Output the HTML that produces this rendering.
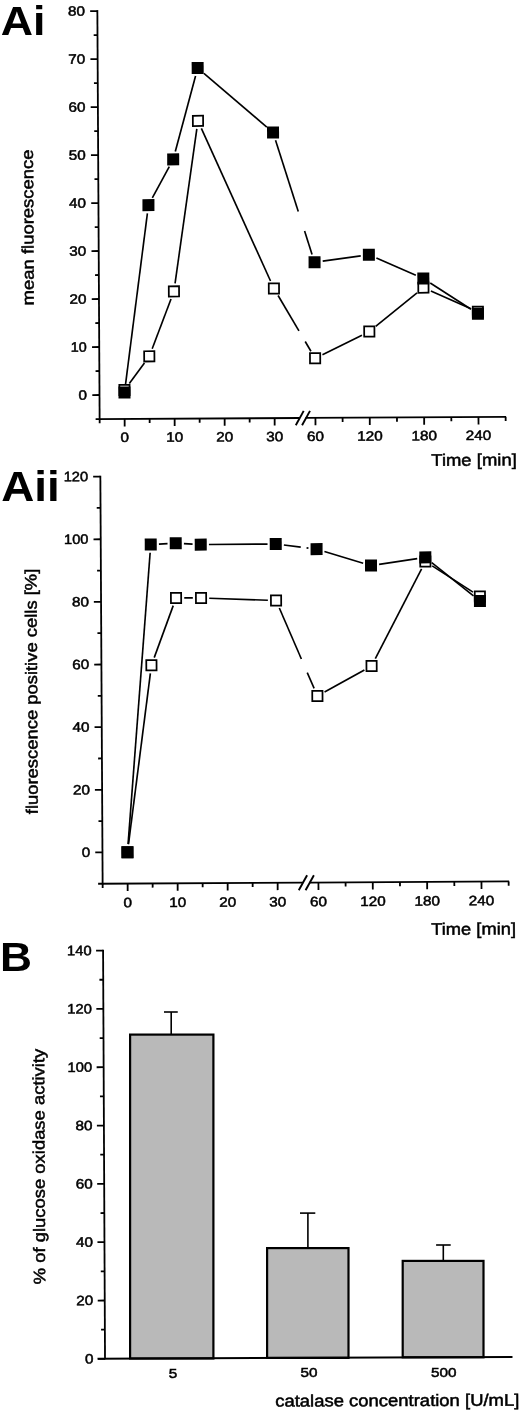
<!DOCTYPE html><html><head><meta charset="utf-8"><title>Figure</title>
<style>html,body{margin:0;padding:0;background:#fff}svg{display:block;filter:grayscale(1)}text{font-family:"Liberation Sans",sans-serif;fill:#000}</style></head><body>
<svg width="520" height="1412" viewBox="0 0 520 1412">
<rect width="520" height="1412" fill="#fff"/>
<text x="0.80" y="35.00" font-size="41" text-anchor="start" textLength="44.70" lengthAdjust="spacingAndGlyphs" font-weight="bold">Ai</text>
<text x="1.30" y="501.30" font-size="42" text-anchor="start" textLength="58.50" lengthAdjust="spacingAndGlyphs" font-weight="bold">Aii</text>
<text x="0.00" y="971.30" font-size="41.5" text-anchor="start" textLength="32.00" lengthAdjust="spacingAndGlyphs" font-weight="bold">B</text>
<g transform="rotate(-0.32 300 215)">
<line x1="98.50" y1="9.00" x2="98.50" y2="418.90" stroke="#000" stroke-width="1.8" />
<line x1="91.30" y1="393.90" x2="98.50" y2="393.90" stroke="#000" stroke-width="1.8" />
<text x="86.10" y="398.40" font-size="13.6" text-anchor="end" textLength="8.50" lengthAdjust="spacingAndGlyphs" stroke="#000" stroke-width="0.5">0</text>
<line x1="94.70" y1="369.90" x2="98.50" y2="369.90" stroke="#000" stroke-width="1.8" />
<line x1="91.30" y1="345.90" x2="98.50" y2="345.90" stroke="#000" stroke-width="1.8" />
<text x="86.10" y="350.40" font-size="13.6" text-anchor="end" textLength="16.00" lengthAdjust="spacingAndGlyphs" stroke="#000" stroke-width="0.5">10</text>
<line x1="94.70" y1="321.90" x2="98.50" y2="321.90" stroke="#000" stroke-width="1.8" />
<line x1="91.30" y1="297.90" x2="98.50" y2="297.90" stroke="#000" stroke-width="1.8" />
<text x="86.10" y="302.40" font-size="13.6" text-anchor="end" textLength="17.00" lengthAdjust="spacingAndGlyphs" stroke="#000" stroke-width="0.5">20</text>
<line x1="94.70" y1="273.90" x2="98.50" y2="273.90" stroke="#000" stroke-width="1.8" />
<line x1="91.30" y1="249.90" x2="98.50" y2="249.90" stroke="#000" stroke-width="1.8" />
<text x="86.10" y="254.40" font-size="13.6" text-anchor="end" textLength="17.00" lengthAdjust="spacingAndGlyphs" stroke="#000" stroke-width="0.5">30</text>
<line x1="94.70" y1="225.90" x2="98.50" y2="225.90" stroke="#000" stroke-width="1.8" />
<line x1="91.30" y1="201.90" x2="98.50" y2="201.90" stroke="#000" stroke-width="1.8" />
<text x="86.10" y="206.40" font-size="13.6" text-anchor="end" textLength="17.00" lengthAdjust="spacingAndGlyphs" stroke="#000" stroke-width="0.5">40</text>
<line x1="94.70" y1="177.90" x2="98.50" y2="177.90" stroke="#000" stroke-width="1.8" />
<line x1="91.30" y1="153.90" x2="98.50" y2="153.90" stroke="#000" stroke-width="1.8" />
<text x="86.10" y="158.40" font-size="13.6" text-anchor="end" textLength="17.00" lengthAdjust="spacingAndGlyphs" stroke="#000" stroke-width="0.5">50</text>
<line x1="94.70" y1="129.90" x2="98.50" y2="129.90" stroke="#000" stroke-width="1.8" />
<line x1="91.30" y1="105.90" x2="98.50" y2="105.90" stroke="#000" stroke-width="1.8" />
<text x="86.10" y="110.40" font-size="13.6" text-anchor="end" textLength="17.00" lengthAdjust="spacingAndGlyphs" stroke="#000" stroke-width="0.5">60</text>
<line x1="94.70" y1="81.90" x2="98.50" y2="81.90" stroke="#000" stroke-width="1.8" />
<line x1="91.30" y1="57.90" x2="98.50" y2="57.90" stroke="#000" stroke-width="1.8" />
<text x="86.10" y="62.40" font-size="13.6" text-anchor="end" textLength="17.00" lengthAdjust="spacingAndGlyphs" stroke="#000" stroke-width="0.5">70</text>
<line x1="94.70" y1="33.90" x2="98.50" y2="33.90" stroke="#000" stroke-width="1.8" />
<line x1="91.30" y1="9.90" x2="98.50" y2="9.90" stroke="#000" stroke-width="1.8" />
<text x="86.10" y="14.40" font-size="13.6" text-anchor="end" textLength="17.00" lengthAdjust="spacingAndGlyphs" stroke="#000" stroke-width="0.5">80</text>
<line x1="94.50" y1="418.00" x2="298.40" y2="418.00" stroke="#000" stroke-width="1.8" />
<line x1="304.40" y1="418.00" x2="504.90" y2="418.00" stroke="#000" stroke-width="1.8" />
<line x1="294.60" y1="425.30" x2="302.60" y2="410.90" stroke="#000" stroke-width="1.9" />
<line x1="300.90" y1="425.30" x2="308.90" y2="410.90" stroke="#000" stroke-width="1.9" />
<line x1="123.50" y1="418.00" x2="123.50" y2="425.40" stroke="#000" stroke-width="1.8" />
<text x="123.50" y="441.00" font-size="13.6" text-anchor="middle" textLength="8.50" lengthAdjust="spacingAndGlyphs" stroke="#000" stroke-width="0.5">0</text>
<line x1="173.50" y1="418.00" x2="173.50" y2="425.40" stroke="#000" stroke-width="1.8" />
<text x="173.50" y="441.00" font-size="13.6" text-anchor="middle" textLength="17.00" lengthAdjust="spacingAndGlyphs" stroke="#000" stroke-width="0.5">10</text>
<line x1="223.50" y1="418.00" x2="223.50" y2="425.40" stroke="#000" stroke-width="1.8" />
<text x="223.50" y="441.00" font-size="13.6" text-anchor="middle" textLength="17.00" lengthAdjust="spacingAndGlyphs" stroke="#000" stroke-width="0.5">20</text>
<line x1="273.50" y1="418.00" x2="273.50" y2="425.40" stroke="#000" stroke-width="1.8" />
<text x="273.50" y="441.00" font-size="13.6" text-anchor="middle" textLength="17.00" lengthAdjust="spacingAndGlyphs" stroke="#000" stroke-width="0.5">30</text>
<line x1="314.30" y1="418.00" x2="314.30" y2="425.40" stroke="#000" stroke-width="1.8" />
<text x="314.30" y="441.00" font-size="13.6" text-anchor="middle" textLength="17.00" lengthAdjust="spacingAndGlyphs" stroke="#000" stroke-width="0.5">60</text>
<line x1="368.65" y1="418.00" x2="368.65" y2="425.40" stroke="#000" stroke-width="1.8" />
<text x="368.65" y="441.00" font-size="13.6" text-anchor="middle" textLength="25.50" lengthAdjust="spacingAndGlyphs" stroke="#000" stroke-width="0.5">120</text>
<line x1="423.00" y1="418.00" x2="423.00" y2="425.40" stroke="#000" stroke-width="1.8" />
<text x="423.00" y="441.00" font-size="13.6" text-anchor="middle" textLength="25.50" lengthAdjust="spacingAndGlyphs" stroke="#000" stroke-width="0.5">180</text>
<line x1="477.35" y1="418.00" x2="477.35" y2="425.40" stroke="#000" stroke-width="1.8" />
<text x="477.35" y="441.00" font-size="13.6" text-anchor="middle" textLength="25.50" lengthAdjust="spacingAndGlyphs" stroke="#000" stroke-width="0.5">240</text>
<line x1="98.50" y1="418.00" x2="98.50" y2="422.20" stroke="#000" stroke-width="1.8" />
<line x1="148.50" y1="418.00" x2="148.50" y2="422.20" stroke="#000" stroke-width="1.8" />
<line x1="198.50" y1="418.00" x2="198.50" y2="422.20" stroke="#000" stroke-width="1.8" />
<line x1="248.50" y1="418.00" x2="248.50" y2="422.20" stroke="#000" stroke-width="1.8" />
<line x1="341.48" y1="418.00" x2="341.48" y2="422.20" stroke="#000" stroke-width="1.8" />
<line x1="395.83" y1="418.00" x2="395.83" y2="422.20" stroke="#000" stroke-width="1.8" />
<line x1="450.18" y1="418.00" x2="450.18" y2="422.20" stroke="#000" stroke-width="1.8" />
<line x1="504.52" y1="418.00" x2="504.52" y2="422.20" stroke="#000" stroke-width="1.8" />
<text x="429.90" y="466.60" font-size="16.6" text-anchor="start" textLength="85.50" lengthAdjust="spacingAndGlyphs" stroke="#000" stroke-width="0.5">Time [min]</text>
<text x="33.35" y="225.90" font-size="16.5" text-anchor="middle" textLength="156.00" lengthAdjust="spacingAndGlyphs" stroke="#000" stroke-width="0.5" transform="rotate(-90 33.35 225.90)">mean fluorescence</text>
<line x1="128.39" y1="382.52" x2="143.61" y2="362.08" stroke="#000" stroke-width="1.65" />
<line x1="151.45" y1="347.85" x2="170.55" y2="298.35" stroke="#000" stroke-width="1.65" />
<line x1="174.69" y1="282.59" x2="197.31" y2="128.41" stroke="#000" stroke-width="1.65" />
<line x1="201.84" y1="127.79" x2="270.16" y2="280.81" stroke="#000" stroke-width="1.65" />
<line x1="277.63" y1="295.39" x2="298.30" y2="330.90" stroke="#000" stroke-width="1.65" />
<line x1="304.50" y1="341.55" x2="310.17" y2="351.29" stroke="#000" stroke-width="1.65" />
<line x1="321.68" y1="354.80" x2="361.27" y2="335.56" stroke="#000" stroke-width="1.65" />
<line x1="375.04" y1="326.84" x2="416.61" y2="293.44" stroke="#000" stroke-width="1.65" />
<line x1="430.48" y1="291.67" x2="469.87" y2="309.41" stroke="#000" stroke-width="1.65" />
<line x1="124.59" y1="383.37" x2="147.41" y2="212.43" stroke="#000" stroke-width="1.65" />
<line x1="152.44" y1="197.11" x2="169.56" y2="165.89" stroke="#000" stroke-width="1.65" />
<line x1="175.67" y1="150.79" x2="196.33" y2="75.41" stroke="#000" stroke-width="1.65" />
<line x1="204.70" y1="72.86" x2="267.30" y2="126.94" stroke="#000" stroke-width="1.65" />
<line x1="275.95" y1="140.12" x2="298.30" y2="211.37" stroke="#000" stroke-width="1.65" />
<line x1="304.50" y1="231.14" x2="311.85" y2="254.56" stroke="#000" stroke-width="1.65" />
<line x1="322.43" y1="261.30" x2="360.52" y2="256.26" stroke="#000" stroke-width="1.65" />
<line x1="376.15" y1="258.49" x2="415.50" y2="275.87" stroke="#000" stroke-width="1.65" />
<line x1="429.86" y1="283.67" x2="470.49" y2="310.21" stroke="#000" stroke-width="1.65" />
<rect x="118.38" y="383.97" width="10.25" height="10.25" fill="#fff" stroke="#000" stroke-width="1.75"/>
<rect x="143.38" y="350.38" width="10.25" height="10.25" fill="#fff" stroke="#000" stroke-width="1.75"/>
<rect x="168.38" y="285.57" width="10.25" height="10.25" fill="#fff" stroke="#000" stroke-width="1.75"/>
<rect x="193.38" y="115.18" width="10.25" height="10.25" fill="#fff" stroke="#000" stroke-width="1.75"/>
<rect x="268.38" y="283.17" width="10.25" height="10.25" fill="#fff" stroke="#000" stroke-width="1.75"/>
<rect x="309.18" y="353.25" width="10.25" height="10.25" fill="#fff" stroke="#000" stroke-width="1.75"/>
<rect x="363.53" y="326.85" width="10.25" height="10.25" fill="#fff" stroke="#000" stroke-width="1.75"/>
<rect x="417.88" y="283.17" width="10.25" height="10.25" fill="#fff" stroke="#000" stroke-width="1.75"/>
<rect x="472.23" y="307.65" width="10.25" height="10.25" fill="#fff" stroke="#000" stroke-width="1.75"/>
<rect x="117.50" y="385.50" width="12" height="12" fill="#000"/>
<rect x="142.50" y="198.30" width="12" height="12" fill="#000"/>
<rect x="167.50" y="152.70" width="12" height="12" fill="#000"/>
<rect x="192.50" y="61.50" width="12" height="12" fill="#000"/>
<rect x="267.50" y="126.30" width="12" height="12" fill="#000"/>
<rect x="308.30" y="256.38" width="12" height="12" fill="#000"/>
<rect x="362.65" y="249.18" width="12" height="12" fill="#000"/>
<rect x="417.00" y="273.18" width="12" height="12" fill="#000"/>
<rect x="471.35" y="308.70" width="12" height="12" fill="#000"/>
</g>
<g transform="rotate(-0.32 300 680)">
<line x1="101.50" y1="474.60" x2="101.50" y2="883.50" stroke="#000" stroke-width="1.8" />
<line x1="94.30" y1="851.30" x2="101.50" y2="851.30" stroke="#000" stroke-width="1.8" />
<text x="89.30" y="855.80" font-size="13.6" text-anchor="end" textLength="8.50" lengthAdjust="spacingAndGlyphs" stroke="#000" stroke-width="0.5">0</text>
<line x1="97.70" y1="819.98" x2="101.50" y2="819.98" stroke="#000" stroke-width="1.8" />
<line x1="94.30" y1="788.67" x2="101.50" y2="788.67" stroke="#000" stroke-width="1.8" />
<text x="89.30" y="793.17" font-size="13.6" text-anchor="end" textLength="17.00" lengthAdjust="spacingAndGlyphs" stroke="#000" stroke-width="0.5">20</text>
<line x1="97.70" y1="757.35" x2="101.50" y2="757.35" stroke="#000" stroke-width="1.8" />
<line x1="94.30" y1="726.03" x2="101.50" y2="726.03" stroke="#000" stroke-width="1.8" />
<text x="89.30" y="730.53" font-size="13.6" text-anchor="end" textLength="17.00" lengthAdjust="spacingAndGlyphs" stroke="#000" stroke-width="0.5">40</text>
<line x1="97.70" y1="694.71" x2="101.50" y2="694.71" stroke="#000" stroke-width="1.8" />
<line x1="94.30" y1="663.40" x2="101.50" y2="663.40" stroke="#000" stroke-width="1.8" />
<text x="89.30" y="667.90" font-size="13.6" text-anchor="end" textLength="17.00" lengthAdjust="spacingAndGlyphs" stroke="#000" stroke-width="0.5">60</text>
<line x1="97.70" y1="632.08" x2="101.50" y2="632.08" stroke="#000" stroke-width="1.8" />
<line x1="94.30" y1="600.76" x2="101.50" y2="600.76" stroke="#000" stroke-width="1.8" />
<text x="89.30" y="605.26" font-size="13.6" text-anchor="end" textLength="17.00" lengthAdjust="spacingAndGlyphs" stroke="#000" stroke-width="0.5">80</text>
<line x1="97.70" y1="569.45" x2="101.50" y2="569.45" stroke="#000" stroke-width="1.8" />
<line x1="94.30" y1="538.13" x2="101.50" y2="538.13" stroke="#000" stroke-width="1.8" />
<text x="89.30" y="542.63" font-size="13.6" text-anchor="end" textLength="24.50" lengthAdjust="spacingAndGlyphs" stroke="#000" stroke-width="0.5">100</text>
<line x1="97.70" y1="506.81" x2="101.50" y2="506.81" stroke="#000" stroke-width="1.8" />
<line x1="94.30" y1="475.50" x2="101.50" y2="475.50" stroke="#000" stroke-width="1.8" />
<text x="89.30" y="480.00" font-size="13.6" text-anchor="end" textLength="24.50" lengthAdjust="spacingAndGlyphs" stroke="#000" stroke-width="0.5">120</text>
<line x1="97.00" y1="882.60" x2="302.10" y2="882.60" stroke="#000" stroke-width="1.8" />
<line x1="308.10" y1="882.60" x2="508.00" y2="882.60" stroke="#000" stroke-width="1.8" />
<line x1="297.60" y1="890.30" x2="306.00" y2="875.30" stroke="#000" stroke-width="1.9" />
<line x1="304.40" y1="890.30" x2="312.80" y2="875.30" stroke="#000" stroke-width="1.9" />
<line x1="126.50" y1="882.60" x2="126.50" y2="890.00" stroke="#000" stroke-width="1.8" />
<text x="126.50" y="906.30" font-size="13.6" text-anchor="middle" textLength="8.50" lengthAdjust="spacingAndGlyphs" stroke="#000" stroke-width="0.5">0</text>
<line x1="176.50" y1="882.60" x2="176.50" y2="890.00" stroke="#000" stroke-width="1.8" />
<text x="176.50" y="906.30" font-size="13.6" text-anchor="middle" textLength="17.00" lengthAdjust="spacingAndGlyphs" stroke="#000" stroke-width="0.5">10</text>
<line x1="226.50" y1="882.60" x2="226.50" y2="890.00" stroke="#000" stroke-width="1.8" />
<text x="226.50" y="906.30" font-size="13.6" text-anchor="middle" textLength="17.00" lengthAdjust="spacingAndGlyphs" stroke="#000" stroke-width="0.5">20</text>
<line x1="276.50" y1="882.60" x2="276.50" y2="890.00" stroke="#000" stroke-width="1.8" />
<text x="276.50" y="906.30" font-size="13.6" text-anchor="middle" textLength="17.00" lengthAdjust="spacingAndGlyphs" stroke="#000" stroke-width="0.5">30</text>
<line x1="317.30" y1="882.60" x2="317.30" y2="890.00" stroke="#000" stroke-width="1.8" />
<text x="317.30" y="906.30" font-size="13.6" text-anchor="middle" textLength="17.00" lengthAdjust="spacingAndGlyphs" stroke="#000" stroke-width="0.5">60</text>
<line x1="371.65" y1="882.60" x2="371.65" y2="890.00" stroke="#000" stroke-width="1.8" />
<text x="371.65" y="906.30" font-size="13.6" text-anchor="middle" textLength="25.50" lengthAdjust="spacingAndGlyphs" stroke="#000" stroke-width="0.5">120</text>
<line x1="426.00" y1="882.60" x2="426.00" y2="890.00" stroke="#000" stroke-width="1.8" />
<text x="426.00" y="906.30" font-size="13.6" text-anchor="middle" textLength="25.50" lengthAdjust="spacingAndGlyphs" stroke="#000" stroke-width="0.5">180</text>
<line x1="480.35" y1="882.60" x2="480.35" y2="890.00" stroke="#000" stroke-width="1.8" />
<text x="480.35" y="906.30" font-size="13.6" text-anchor="middle" textLength="25.50" lengthAdjust="spacingAndGlyphs" stroke="#000" stroke-width="0.5">240</text>
<line x1="101.50" y1="882.60" x2="101.50" y2="886.80" stroke="#000" stroke-width="1.8" />
<line x1="151.50" y1="882.60" x2="151.50" y2="886.80" stroke="#000" stroke-width="1.8" />
<line x1="201.50" y1="882.60" x2="201.50" y2="886.80" stroke="#000" stroke-width="1.8" />
<line x1="251.50" y1="882.60" x2="251.50" y2="886.80" stroke="#000" stroke-width="1.8" />
<line x1="344.48" y1="882.60" x2="344.48" y2="886.80" stroke="#000" stroke-width="1.8" />
<line x1="398.83" y1="882.60" x2="398.83" y2="886.80" stroke="#000" stroke-width="1.8" />
<line x1="453.18" y1="882.60" x2="453.18" y2="886.80" stroke="#000" stroke-width="1.8" />
<line x1="507.52" y1="882.60" x2="507.52" y2="886.80" stroke="#000" stroke-width="1.8" />
<text x="429.90" y="935.60" font-size="16.6" text-anchor="start" textLength="84.70" lengthAdjust="spacingAndGlyphs" stroke="#000" stroke-width="0.5">Time [min]</text>
<text x="37.10" y="690.00" font-size="16.5" text-anchor="middle" textLength="245.50" lengthAdjust="spacingAndGlyphs" stroke="#000" stroke-width="0.5" transform="rotate(-90 37.10 690.00)">fluorescence positive cells [%]</text>
<line x1="127.59" y1="843.17" x2="150.41" y2="672.59" stroke="#000" stroke-width="1.65" />
<line x1="154.36" y1="656.78" x2="173.64" y2="604.91" stroke="#000" stroke-width="1.65" />
<line x1="184.70" y1="597.28" x2="193.30" y2="597.33" stroke="#000" stroke-width="1.65" />
<line x1="209.69" y1="597.71" x2="268.31" y2="600.03" stroke="#000" stroke-width="1.65" />
<line x1="279.72" y1="607.90" x2="301.50" y2="659.00" stroke="#000" stroke-width="1.65" />
<line x1="307.30" y1="672.60" x2="314.08" y2="688.52" stroke="#000" stroke-width="1.65" />
<line x1="324.49" y1="692.13" x2="364.46" y2="670.28" stroke="#000" stroke-width="1.65" />
<line x1="375.44" y1="659.07" x2="422.21" y2="569.45" stroke="#000" stroke-width="1.65" />
<line x1="432.87" y1="566.65" x2="473.48" y2="593.07" stroke="#000" stroke-width="1.65" />
<line x1="127.16" y1="843.13" x2="150.84" y2="551.91" stroke="#000" stroke-width="1.65" />
<line x1="159.69" y1="543.33" x2="168.31" y2="542.89" stroke="#000" stroke-width="1.65" />
<line x1="184.68" y1="543.00" x2="193.32" y2="543.54" stroke="#000" stroke-width="1.65" />
<line x1="209.70" y1="544.03" x2="268.30" y2="543.91" stroke="#000" stroke-width="1.65" />
<line x1="284.63" y1="544.95" x2="301.50" y2="547.15" stroke="#000" stroke-width="1.65" />
<line x1="307.30" y1="547.91" x2="309.17" y2="548.16" stroke="#000" stroke-width="1.65" />
<line x1="325.14" y1="551.63" x2="363.81" y2="563.53" stroke="#000" stroke-width="1.65" />
<line x1="379.77" y1="564.77" x2="417.88" y2="559.28" stroke="#000" stroke-width="1.65" />
<line x1="432.38" y1="563.26" x2="473.97" y2="596.78" stroke="#000" stroke-width="1.65" />
<rect x="121.38" y="846.17" width="10.25" height="10.25" fill="#fff" stroke="#000" stroke-width="1.75"/>
<rect x="146.38" y="659.34" width="10.25" height="10.25" fill="#fff" stroke="#000" stroke-width="1.75"/>
<rect x="171.38" y="592.10" width="10.25" height="10.25" fill="#fff" stroke="#000" stroke-width="1.75"/>
<rect x="196.38" y="592.26" width="10.25" height="10.25" fill="#fff" stroke="#000" stroke-width="1.75"/>
<rect x="271.38" y="595.23" width="10.25" height="10.25" fill="#fff" stroke="#000" stroke-width="1.75"/>
<rect x="312.18" y="690.94" width="10.25" height="10.25" fill="#fff" stroke="#000" stroke-width="1.75"/>
<rect x="366.53" y="661.22" width="10.25" height="10.25" fill="#fff" stroke="#000" stroke-width="1.75"/>
<rect x="420.88" y="557.06" width="10.25" height="10.25" fill="#fff" stroke="#000" stroke-width="1.75"/>
<rect x="475.23" y="592.41" width="10.25" height="10.25" fill="#fff" stroke="#000" stroke-width="1.75"/>
<rect x="120.50" y="845.30" width="12" height="12" fill="#000"/>
<rect x="145.50" y="537.74" width="12" height="12" fill="#000"/>
<rect x="170.50" y="536.48" width="12" height="12" fill="#000"/>
<rect x="195.50" y="538.05" width="12" height="12" fill="#000"/>
<rect x="270.50" y="537.89" width="12" height="12" fill="#000"/>
<rect x="311.30" y="543.22" width="12" height="12" fill="#000"/>
<rect x="365.65" y="559.94" width="12" height="12" fill="#000"/>
<rect x="420.00" y="552.11" width="12" height="12" fill="#000"/>
<rect x="474.35" y="595.92" width="12" height="12" fill="#000"/>
</g>
<g transform="rotate(-0.27 300 1155)">
<line x1="104.05" y1="948.76" x2="104.05" y2="1358.40" stroke="#000" stroke-width="1.8" />
<line x1="97.05" y1="1357.90" x2="104.05" y2="1357.90" stroke="#000" stroke-width="1.8" />
<text x="92.50" y="1362.40" font-size="13.6" text-anchor="end" textLength="8.50" lengthAdjust="spacingAndGlyphs" stroke="#000" stroke-width="0.5">0</text>
<line x1="100.25" y1="1328.74" x2="104.05" y2="1328.74" stroke="#000" stroke-width="1.8" />
<line x1="97.05" y1="1299.58" x2="104.05" y2="1299.58" stroke="#000" stroke-width="1.8" />
<text x="92.50" y="1304.08" font-size="13.6" text-anchor="end" textLength="17.00" lengthAdjust="spacingAndGlyphs" stroke="#000" stroke-width="0.5">20</text>
<line x1="100.25" y1="1270.42" x2="104.05" y2="1270.42" stroke="#000" stroke-width="1.8" />
<line x1="97.05" y1="1241.26" x2="104.05" y2="1241.26" stroke="#000" stroke-width="1.8" />
<text x="92.50" y="1245.76" font-size="13.6" text-anchor="end" textLength="17.00" lengthAdjust="spacingAndGlyphs" stroke="#000" stroke-width="0.5">40</text>
<line x1="100.25" y1="1212.10" x2="104.05" y2="1212.10" stroke="#000" stroke-width="1.8" />
<line x1="97.05" y1="1182.94" x2="104.05" y2="1182.94" stroke="#000" stroke-width="1.8" />
<text x="92.50" y="1187.44" font-size="13.6" text-anchor="end" textLength="17.00" lengthAdjust="spacingAndGlyphs" stroke="#000" stroke-width="0.5">60</text>
<line x1="100.25" y1="1153.78" x2="104.05" y2="1153.78" stroke="#000" stroke-width="1.8" />
<line x1="97.05" y1="1124.62" x2="104.05" y2="1124.62" stroke="#000" stroke-width="1.8" />
<text x="92.50" y="1129.12" font-size="13.6" text-anchor="end" textLength="17.00" lengthAdjust="spacingAndGlyphs" stroke="#000" stroke-width="0.5">80</text>
<line x1="100.25" y1="1095.46" x2="104.05" y2="1095.46" stroke="#000" stroke-width="1.8" />
<line x1="97.05" y1="1066.30" x2="104.05" y2="1066.30" stroke="#000" stroke-width="1.8" />
<text x="92.50" y="1070.80" font-size="13.6" text-anchor="end" textLength="24.50" lengthAdjust="spacingAndGlyphs" stroke="#000" stroke-width="0.5">100</text>
<line x1="100.25" y1="1037.14" x2="104.05" y2="1037.14" stroke="#000" stroke-width="1.8" />
<line x1="97.05" y1="1007.98" x2="104.05" y2="1007.98" stroke="#000" stroke-width="1.8" />
<text x="92.50" y="1012.48" font-size="13.6" text-anchor="end" textLength="24.50" lengthAdjust="spacingAndGlyphs" stroke="#000" stroke-width="0.5">120</text>
<line x1="100.25" y1="978.82" x2="104.05" y2="978.82" stroke="#000" stroke-width="1.8" />
<line x1="97.05" y1="949.66" x2="104.05" y2="949.66" stroke="#000" stroke-width="1.8" />
<text x="92.50" y="954.16" font-size="13.6" text-anchor="end" textLength="24.50" lengthAdjust="spacingAndGlyphs" stroke="#000" stroke-width="0.5">140</text>
<text x="44.60" y="1165.30" font-size="16.5" text-anchor="middle" textLength="235.50" lengthAdjust="spacingAndGlyphs" stroke="#000" stroke-width="0.5" transform="rotate(-90 44.60 1165.30)">% of glucose oxidase activity</text>
</g>
<line x1="171.20" y1="1034.50" x2="171.20" y2="1012.00" stroke="#000" stroke-width="1.6" />
<line x1="164.00" y1="1012.00" x2="177.75" y2="1012.00" stroke="#000" stroke-width="1.6" />
<rect x="130.10" y="1034.60" width="83.30" height="323.88" fill="#b9b9b9" stroke="#000" stroke-width="2.2"/>
<text x="173.00" y="1378.00" font-size="13.6" text-anchor="middle" textLength="8.50" lengthAdjust="spacingAndGlyphs" stroke="#000" stroke-width="0.5">5</text>
<line x1="307.90" y1="1248.00" x2="307.90" y2="1213.10" stroke="#000" stroke-width="1.6" />
<line x1="300.00" y1="1213.10" x2="315.30" y2="1213.10" stroke="#000" stroke-width="1.6" />
<rect x="267.10" y="1248.10" width="81.40" height="109.79" fill="#b9b9b9" stroke="#000" stroke-width="2.2"/>
<text x="308.90" y="1377.40" font-size="13.6" text-anchor="middle" textLength="17.00" lengthAdjust="spacingAndGlyphs" stroke="#000" stroke-width="0.5">50</text>
<line x1="443.30" y1="1260.80" x2="443.30" y2="1245.00" stroke="#000" stroke-width="1.6" />
<line x1="436.10" y1="1245.00" x2="450.70" y2="1245.00" stroke="#000" stroke-width="1.6" />
<rect x="402.70" y="1260.90" width="80.80" height="96.40" fill="#b9b9b9" stroke="#000" stroke-width="2.2"/>
<text x="443.70" y="1376.60" font-size="13.6" text-anchor="middle" textLength="25.50" lengthAdjust="spacingAndGlyphs" stroke="#000" stroke-width="0.5">500</text>
<line x1="97.50" y1="1358.80" x2="512.50" y2="1357.00" stroke="#000" stroke-width="2.0" />
<g transform="rotate(-0.22 396 1406.1)">
<text x="275.20" y="1406.10" font-size="16.6" text-anchor="start" textLength="244.20" lengthAdjust="spacingAndGlyphs" stroke="#000" stroke-width="0.5">catalase concentration [U/mL]</text>
</g>
</svg></body></html>
